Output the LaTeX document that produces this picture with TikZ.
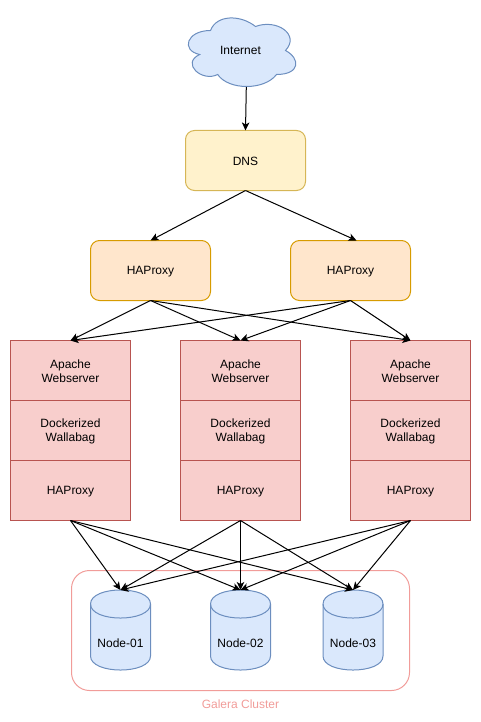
\documentclass[tikz,border=0pt]{standalone}
\usepackage{fontspec}
\setmainfont{Liberation Sans}
\usetikzlibrary{arrows.meta}
\definecolor{blueF}{HTML}{DAE8FC}
\definecolor{blueS}{HTML}{6C8EBF}
\definecolor{yelF}{HTML}{FFF2CC}
\definecolor{yelS}{HTML}{D6B656}
\definecolor{orgF}{HTML}{FFE6CC}
\definecolor{orgS}{HTML}{D79B00}
\definecolor{redF}{HTML}{F8CECC}
\definecolor{redS}{HTML}{B85450}
\definecolor{galera}{HTML}{F19C99}
\newcommand{\st}{\rule[-2pt]{0pt}{13pt}}
\tikzset{
  every node/.style={font=\fontsize{12}{14}\selectfont, align=center, inner sep=0pt, outer sep=0pt, text=black},
  dnsbox/.style={draw=yelS, fill=yelF, line width=1pt, rounded corners=9pt, minimum width=120pt, minimum height=60pt},
  proxybox/.style={draw=orgS, fill=orgF, line width=1pt, rounded corners=9pt, minimum width=120pt, minimum height=60pt},
  webcell/.style={draw=redS, fill=redF, line width=1pt, minimum width=120pt, minimum height=60pt},
  dbshape/.style={draw=blueS, fill=blueF, line width=1pt},
  dbanchor/.style={minimum width=60pt, minimum height=80pt},
  cloudshape/.style={draw=blueS, fill=blueF, line width=1pt},
  link/.style={draw=black, line width=1pt, -{Stealth[length=8pt,width=7.5pt,inset=2pt]}},
  clusterbox/.style={draw=galera, line width=1pt, rounded corners=18pt},
  clusterlabel/.style={text=galera}
}
\newcommand{\dbdraw}[1]{%
  \begin{scope}[shift={(#1,590)}]
    \path[dbshape] (0,14) .. controls (0,-4.7) and (60,-4.7) .. (60,14) -- (60,66) .. controls (60,84.7) and (0,84.7) .. (0,66) -- cycle;
    \path[dbshape,fill=none] (0,14) .. controls (0,32.7) and (60,32.7) .. (60,14);
  \end{scope}}
\begin{document}
\begin{tikzpicture}[x=1pt,y=-1pt]
\useasboundingbox (0,0) rectangle (481,722);
% cluster
\draw[clusterbox] (71.5,570.5) rectangle (409.5,690.5);
\node[clusterlabel] (galeralabel) at (240.5,703.5) {\st Galera Cluster};
% cloud
\begin{scope}[shift={(180.5,10.5)},x=120pt,y=-80pt]
\path[cloudshape] (0.25,0.25)
  .. controls (0.05,0.25) and (0,0.5) .. (0.16,0.55)
  .. controls (0,0.66) and (0.18,0.9) .. (0.31,0.8)
  .. controls (0.4,1) and (0.7,1) .. (0.8,0.8)
  .. controls (1,0.8) and (1,0.6) .. (0.875,0.5)
  .. controls (1,0.3) and (0.8,0.1) .. (0.625,0.2)
  .. controls (0.5,0.05) and (0.3,0.05) .. (0.25,0.25) -- cycle;
\end{scope}
\node (internet) at (240.5,50.5) {\st Internet};
\coordinate (cloudbottom) at (246.3,87);
% boxes
\node[dnsbox] (dns) at (245.5,160.5) {\st DNS};
\node[proxybox] (ha1) at (150.5,270.5) {\st HAProxy};
\node[proxybox] (ha2) at (350.5,270.5) {\st HAProxy};
\node[webcell] (w1a) at (70.5,370.5) {\st Apache\\\st Webserver};
\node[webcell] (w1b) at (70.5,430.5) {\st Dockerized\\\st Wallabag};
\node[webcell] (w1c) at (70.5,490.5) {\st HAProxy};
\node[webcell] (w2a) at (240.5,370.5) {\st Apache\\\st Webserver};
\node[webcell] (w2b) at (240.5,430.5) {\st Dockerized\\\st Wallabag};
\node[webcell] (w2c) at (240.5,490.5) {\st HAProxy};
\node[webcell] (w3a) at (410.5,370.5) {\st Apache\\\st Webserver};
\node[webcell] (w3b) at (410.5,430.5) {\st Dockerized\\\st Wallabag};
\node[webcell] (w3c) at (410.5,490.5) {\st HAProxy};
% databases
\dbdraw{90.5}\dbdraw{210.5}\dbdraw{323}
\node[dbanchor] (n1) at (120.5,630) {};
\node[dbanchor] (n2) at (240.5,630) {};
\node[dbanchor] (n3) at (353,630) {};
\node (n1t) at (120.5,642.5) {\st Node-01};
\node (n2t) at (240.5,642.5) {\st Node-02};
\node (n3t) at (353,642.5) {\st Node-03};
% connectors
\draw[link] (cloudbottom) -- (dns.north);
\draw[link] (dns.south) -- (ha1.north);
\draw[link] (dns.south) -- ([xshift=6pt]ha2.north);
\foreach \p in {ha1,ha2}
  \foreach \w in {w1a,w2a,w3a}
    \draw[link] (\p.south) -- (\w.north);
\foreach \w in {w1c,w2c,w3c}
  \foreach \n in {n1,n2,n3}
    \draw[link] (\w.south) -- (\n.north);
\end{tikzpicture}
\end{document}
